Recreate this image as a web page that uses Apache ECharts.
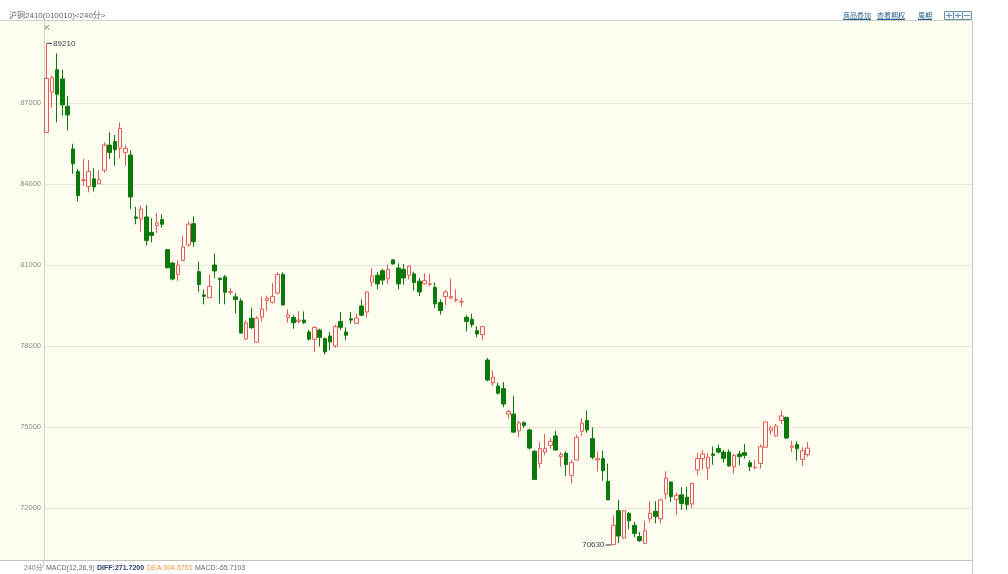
<!DOCTYPE html>
<html><head><meta charset="utf-8">
<script src="https://cdn.jsdelivr.net/npm/echarts@6/dist/echarts.min.js"></script>
<style>html,body{margin:0;padding:0;background:#fff}#c{width:1008px;height:574px}</style>
</head><body><div id="c"></div>
<script>
// ---- data (240-minute bars) ----
const slotCount = 177;
const categories = Array.from({length: slotCount}, (_, i) => String(i + 1));
const openP = [85910,87400,88230,87890,86880,85300,84460,84130,83910,84190,84010,84510,85440,85570,85320,85170,85070,82780,82700,82780,82210,82460,82680,81570,81070,80650,81170,81740,82530,80750,79890,79790,81000,80510,80560,79990,79820,79670,78260,79030,78140,79070,79690,79620,79960,80650,79060,79060,78910,78960,78520,78250,78590,78270,78370,78000,78910,78520,79010,78840,79480,79260,80370,80620,80790,80490,81190,80890,80840,80620,80670,80400,80300,80290,80170,79610,79830,79780,79700,79630,79060,78990,78570,78420,77480,76640,76520,76420,75480,75480,74860,75160,74890,74100,73650,74070,74320,74670,73900,74030,73210,73780,74840,75240,74570,73780,73830,72990,70650,71900,70890,71800,71360,70940,70690,71600,71880,71600,72520,72960,72320,72490,72400,72150,73410,73830,73480,74000,74200,74070,74070,73530,74000,74050,73680,73500,73650,74250,74860,74670,75240,75360,74250,74350,73800,73980];
const closeP = [87910,87940,87320,86930,86560,84750,83570,84150,84460,83890,84160,85440,85170,85270,86060,85320,83520,82730,83070,81910,82090,82560,82510,80900,80480,81000,81670,82510,81860,80280,79840,80210,80780,80460,79990,80010,79720,78480,78850,78680,79030,79370,79770,79840,80650,79520,79160,78860,78960,78860,78250,78690,78320,77780,78150,78720,78690,78400,78960,79040,79140,80000,80590,80300,80440,80840,81040,80300,80520,80960,80350,80000,80420,80300,79560,79310,80000,79830,79710,79640,78910,78790,78440,78720,76740,76840,76250,75850,75580,74810,75160,75060,74220,73060,74200,74200,74470,74150,73980,73610,73680,74620,75140,74890,73880,73830,73380,72300,71360,70960,71900,71530,71060,70790,71160,71800,71680,72300,73110,72420,72470,72170,72120,72910,73830,74000,73880,73950,74070,73830,73560,73950,73900,73950,73530,73510,74270,75190,74960,75040,75410,74590,74300,74200,74120,74220];
const lowP = [85900,86830,86280,86530,85990,84380,83350,83940,83690,83720,84000,84410,84930,84680,84950,84680,83070,82510,82240,81720,81840,82190,82380,80880,80430,80410,81150,81670,81670,80010,79540,79790,80510,79570,79540,79890,79200,78460,78230,78630,78110,78900,79300,79570,79910,79490,78860,78640,78840,78820,78200,77780,77980,77680,77850,77930,78590,78220,78820,78820,79110,79060,80200,80100,80270,80300,81010,80100,80270,80470,80050,79850,80270,80220,79410,79160,79510,79730,79630,79460,78540,78690,78320,78220,76690,76520,76200,75730,75310,74810,74620,74960,74170,73040,73460,73950,74200,74120,73530,73190,72910,73780,74670,74790,73800,73360,73010,72300,70630,70700,70860,71210,70910,70740,70670,71460,71430,71430,72320,72220,71750,71930,71930,72000,73210,73430,73040,73600,74020,73680,73530,73280,73580,73830,73360,73430,73460,74250,74720,74640,75110,74570,74070,73750,73560,73900];
const highP = [89210,88010,88840,88230,87250,85490,84560,84930,84880,84580,84510,85540,85910,85820,86280,85440,85250,83150,83200,83220,82730,82930,82880,81570,81120,81170,82090,82610,82800,81120,80090,80650,81420,80530,80630,80140,79960,79770,78950,79420,79100,79820,79860,80330,80730,80730,79360,79140,79280,79280,78590,78740,78640,78320,78520,78790,79260,78690,79260,79190,79730,80030,80890,80740,80860,81010,81210,81060,81040,80990,80740,80520,80690,80670,80350,79730,80070,80490,80100,79780,79140,79190,78740,78740,77560,77090,76640,76670,75630,76150,75230,75210,74940,74150,74440,74740,74590,74860,74070,74100,73780,74720,75330,75610,74990,74100,74120,73650,71730,72300,71930,71850,71480,71110,71530,72250,72250,72350,73360,72990,72570,72770,72790,72940,74050,74150,74030,74270,74350,74150,74170,74000,74120,74370,73780,73780,74350,75190,75040,75110,75610,75360,74490,74470,74250,74440];
const yTicks = [72000, 75000, 78000, 81000, 84000, 87000];
const highMark = {idx: 0, value: 89210};
const lowMark = {idx: 108, value: 70630};
const headerTitle = '沪铜2410(010010)<240分>';
const links = ['商品叠加', '查看期权', '周期'];
const macdParts = ['240分', 'MACD(12,26,9)', 'DIFF:271.7200', 'DEA:304.5751', 'MACD:-65.7103'];

const candleData = openP.map((o, i) => [o, closeP[i], lowP[i], highP[i]]);
const FONT = 'Liberation Sans, "Noto Sans CJK SC", sans-serif';
const RED = '#e65a58', GREEN = '#0b7a0b', CREAM = '#fefef0';

const chart = echarts.init(document.getElementById('c'), null, {renderer: 'canvas'});

function txt(x, y, s, color, size, weight) {
  return {type: 'text', x, y, style: {text: s, fill: color, font: (weight ? weight + ' ' : '') + size + 'px ' + FONT, textVerticalAlign: 'middle'}};
}
function hline(x1, x2, y, color) {
  return {type: 'line', shape: {x1, y1: y, x2, y2: y}, style: {stroke: color, lineWidth: 1}, silent: true};
}
function vline(x, y1, y2, color) {
  return {type: 'line', shape: {x1: x, y1, x2: x, y2}, style: {stroke: color, lineWidth: 1}, silent: true};
}

const linkX = [843, 877, 918];
const linkW = [28, 28, 14];
const graphics = [
  {type: 'rect', shape: {x: 0, y: 20, width: 973, height: 540}, style: {fill: CREAM}, z: -100, silent: true},
  hline(0, 973, 20.5, '#cfcfc4'),
  hline(0, 973, 560.5, '#c4c4bc'),
  vline(972.5, 20, 574, '#c8c8c0'),
  vline(43.5, 560, 567, '#c8c8c0'),
  txt(9, 16, headerTitle, '#666', 8),
  txt(45, 28, 'K', '#777', 8)
];
links.forEach((s, i) => {
  graphics.push(txt(linkX[i], 16, s, '#2b5f86', 7));
  graphics.push(hline(linkX[i], linkX[i] + linkW[i], 19.5, '#2b5f86'));
});
[944, 953, 962].forEach((x, i) => {
  graphics.push({type: 'rect', shape: {x: x + 0.5, y: 11.5, width: 9, height: 8}, style: {fill: '#eef3f7', stroke: '#6a90aa', lineWidth: 1}});
  graphics.push(hline(x + 2, x + 8, 15.5, '#6a90aa'));
  if (i < 2) graphics.push(vline(x + 5, 13, 18, '#6a90aa'));
});
const macdX = [24, 46, 97, 147, 195];
const macdC = ['#777', '#666', '#27406b', '#ee9a2a', '#666'];
macdParts.forEach((s, i) => {
  graphics.push(txt(macdX[i], 568, s, macdC[i], 7, i === 2 ? 'bold' : ''));
});

chart.setOption({
  animation: false,
  backgroundColor: '#ffffff',
  grid: {left: 44, right: 35, top: 20, bottom: 14, show: false},
  xAxis: {
    type: 'category', data: categories, boundaryGap: true,
    axisLine: {show: false}, axisTick: {show: false}, axisLabel: {show: false}, splitLine: {show: false}
  },
  yAxis: {
    type: 'value', min: 70074, max: 90074, scale: true,
    axisLine: {show: true, lineStyle: {color: '#d2d2c8'}},
    axisTick: {show: false, customValues: yTicks},
    axisLabel: {customValues: yTicks, formatter: v => String(v), color: '#8a8a8a', fontSize: 7.5, fontFamily: FONT, margin: 3},
    splitLine: {show: true, lineStyle: {color: '#e6e6d6', width: 1}}
  },
  graphic: graphics,
  series: [{
    type: 'candlestick',
    data: candleData,
    barWidth: 4,
    itemStyle: {color: CREAM, color0: GREEN, borderColor: RED, borderColor0: GREEN, borderWidth: 1},
    markPoint: {
      silent: true,
      data: [
        {coord: [categories[highMark.idx], highMark.value], value: highMark.value, symbol: 'rect', symbolSize: [5, 1], symbolOffset: [3, 0],
         itemStyle: {color: '#333'}, label: {position: 'right', distance: 1, formatter: String(highMark.value), color: '#3a3a4a', fontSize: 8, fontFamily: FONT}},
        {coord: [categories[lowMark.idx], lowMark.value], value: lowMark.value, symbol: 'rect', symbolSize: [6, 1], symbolOffset: [-5, 0],
         itemStyle: {color: '#333'}, label: {position: 'left', distance: 1, formatter: String(lowMark.value), color: '#3a3a4a', fontSize: 8, fontFamily: FONT}}
      ]
    }
  }]
});
</script></body></html>
